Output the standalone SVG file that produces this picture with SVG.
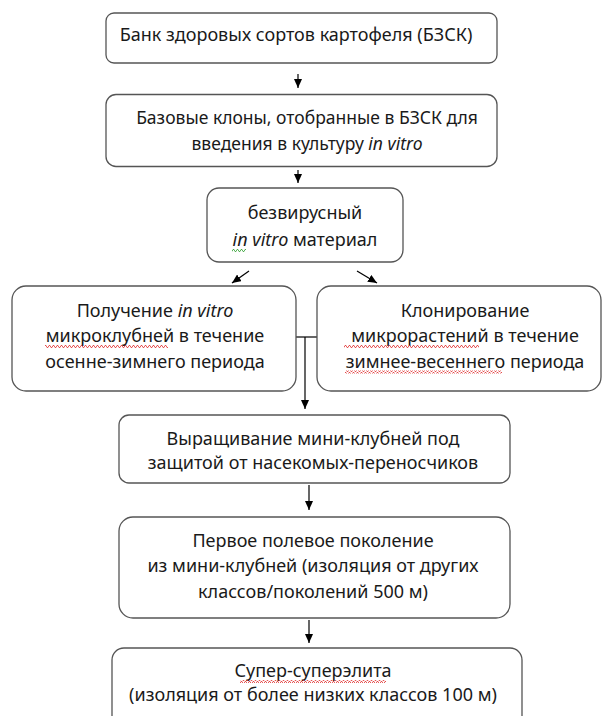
<svg xmlns="http://www.w3.org/2000/svg" width="603" height="716" viewBox="0 0 603 716">
<style>
.box{fill:#fff;stroke:#555;stroke-width:1.3}
.t{font-family:"Noto Sans","Open Sans","DejaVu Sans",sans-serif;font-size:18px;fill:#1a1a1a;text-anchor:middle}
.t2{font-size:17.5px}
.i{font-style:italic}
.c{stroke:#000;stroke-width:1.2;fill:none}
.ca{stroke:#000;stroke-width:1.2;fill:none;marker-end:url(#ah)}
</style>
<defs>
<marker id="ah" markerUnits="userSpaceOnUse" markerWidth="9" markerHeight="8" refX="9" refY="4" orient="auto">
<path d="M0,0 L9,4 L0,8 z" fill="#000"/>
</marker>
<pattern id="wr" width="4" height="3" patternUnits="userSpaceOnUse">
<path d="M0,2.5 L1,0.5 L2,0.5 L3,2.5 L4,2.5" stroke="#e03030" stroke-width="0.8" fill="none"/>
</pattern>
<pattern id="wg" width="4" height="3" patternUnits="userSpaceOnUse">
<path d="M0,2.5 L1,0.5 L2,0.5 L3,2.5 L4,2.5" stroke="#30a030" stroke-width="0.8" fill="none"/>
</pattern>
</defs>
<rect width="603" height="716" fill="#fff"/>
<g id="connectors">
<line class="ca" x1="298" y1="74" x2="298" y2="88"/>
<line class="ca" x1="298" y1="170" x2="298" y2="183"/>
<line class="ca" x1="249" y1="271" x2="232" y2="283"/>
<line class="ca" x1="357" y1="271" x2="377" y2="283"/>
<line class="c" x1="296" y1="337" x2="317" y2="337"/>
<line class="ca" x1="305" y1="337" x2="305" y2="409"/>
<line class="ca" x1="309" y1="485" x2="309" y2="510"/>
<line class="ca" x1="309" y1="620" x2="309" y2="643"/>
</g>
<g id="n1">
<rect class="box" x="106" y="13" width="391" height="50" rx="8"/>
<text class="t" x="296" y="40.5">Банк здоровых сортов картофеля (БЗСК)</text>
</g>
<g id="n2">
<rect class="box" x="106" y="94.5" width="391" height="72" rx="10"/>
<text class="t t2" x="307" y="124">Базовые клоны, отобранные в БЗСК для</text>
<text class="t t2" x="307" y="150">введения в культуру <tspan class="i">in vitro</tspan></text>
</g>
<g id="n3">
<rect class="box" x="207" y="188" width="196" height="74" rx="12"/>
<text class="t" x="305" y="219">безвирусный</text>
<text class="t" x="305" y="246"><tspan class="i">in vitro</tspan> материал</text>
<rect x="232" y="249" width="14" height="3" fill="url(#wg)"/>
</g>
<g id="n4">
<rect class="box" x="12" y="286" width="284" height="105" rx="14"/>
<text class="t" x="155" y="316.5">Получение <tspan class="i">in vitro</tspan></text>
<text class="t" x="155" y="342">микроклубней в течение</text>
<text class="t" x="155" y="367.5">осенне-зимнего периода</text>
<rect x="45" y="345" width="123" height="3" fill="url(#wr)"/>
</g>
<g id="n5">
<rect class="box" x="317" y="286" width="284" height="105" rx="14"/>
<text class="t" x="465" y="316.5">Клонирование</text>
<text class="t" x="465" y="342">микрорастений в течение</text>
<text class="t" x="465" y="367.5">зимнее-весеннего периода</text>
<rect x="344" y="345" width="135" height="3" fill="url(#wr)"/>
<rect x="345" y="370.5" width="157" height="3" fill="url(#wr)"/>
</g>
<g id="n6">
<rect class="box" x="119" y="415" width="391" height="68" rx="10"/>
<text class="t" x="313" y="445">Выращивание мини-клубней под</text>
<text class="t" x="313" y="469">защитой от насекомых-переносчиков</text>
</g>
<g id="n7">
<rect class="box" x="119" y="517" width="391" height="101" rx="14"/>
<text class="t" x="313" y="547">Первое полевое поколение</text>
<text class="t" x="313" y="572">из мини-клубней (изоляция от других</text>
<text class="t" x="313" y="597.5">классов/поколений 500 м)</text>
</g>
<g id="n8">
<rect class="box" x="112" y="648" width="410" height="90" rx="12"/>
<text class="t" x="313" y="677">Супер-суперэлита</text>
<text class="t" x="313" y="701">(изоляция от более низких классов 100 м)</text>
<rect x="240" y="680" width="146" height="3" fill="url(#wr)"/>
</g>
</svg>
